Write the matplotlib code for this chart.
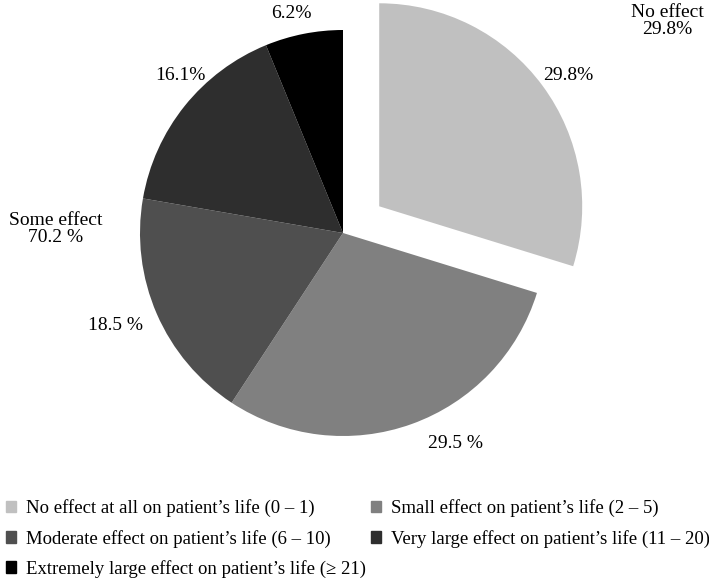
import matplotlib
matplotlib.use('Agg')
from matplotlib import pyplot as plt
from matplotlib.patches import Patch

# slice data, clockwise from the top
categories = ['No effect at all on patient\u2019s life (0 \u2013 1)',
              'Small effect on patient\u2019s life (2 \u2013 5)',
              'Moderate effect on patient\u2019s life (6 \u2013 10)',
              'Very large effect on patient\u2019s life (11 \u2013 20)',
              'Extremely large effect on patient\u2019s life (\u2265 21)']
values = [29.8, 29.5, 18.5, 16.1, 6.2]
slice_labels = ['29.8%', '29.5 %', '18.5 %', '16.1%', '6.2%']
colors = ['#c0c0c0', '#808080', '#4f4f4f', '#2e2e2e', '#000000']

plt.rcParams['font.family'] = ['Liberation Serif', 'DejaVu Serif']

fig = plt.figure(figsize=(7.09, 5.79), dpi=100)
ax = fig.add_axes([0, 0, 1, 1])

# pie drawn in pixel-like data units
wedges, _ = ax.pie(values, colors=colors, startangle=90, counterclock=False,
                   center=(343, 346), radius=203, explode=[45, 0, 0, 0, 0],
                   wedgeprops=dict(linewidth=0), frame=True)
ax.set_xlim(0, 709)
ax.set_ylim(0, 579)
ax.axis('off')

fs = 14
label_pos = [(568, 504), (455, 136), (115, 253), (180, 504), (291, 565)]
for (x, y), t in zip(label_pos, slice_labels):
    ax.text(x, y, t, ha='center', va='center', fontsize=fs)

ax.text(667, 558, 'No effect\n29.8%', ha='center', va='center', fontsize=fs, linespacing=1.0)
ax.text(56, 350, 'Some effect\n70.2 %', ha='center', va='center', fontsize=fs, linespacing=1.0)

# legend: two columns, filled row by row
handles = [Patch(color=c, label=l) for c, l in zip(colors, categories)]
leg_kw = dict(loc='upper left', frameon=False, fontsize=13.5, handlelength=0.55,
              handleheight=0.55, handletextpad=0.5, labelspacing=0.65, borderpad=0.2)
col1 = [0, 2, 4]
col2 = [1, 3]
fig.legend([handles[i] for i in col1], [categories[i] for i in col1],
           bbox_to_anchor=(-0.01, 0.16), **leg_kw)
fig.legend([handles[i] for i in col2], [categories[i] for i in col2],
           bbox_to_anchor=(0.505, 0.16), **leg_kw)

fig.savefig('out.png', dpi=100)
